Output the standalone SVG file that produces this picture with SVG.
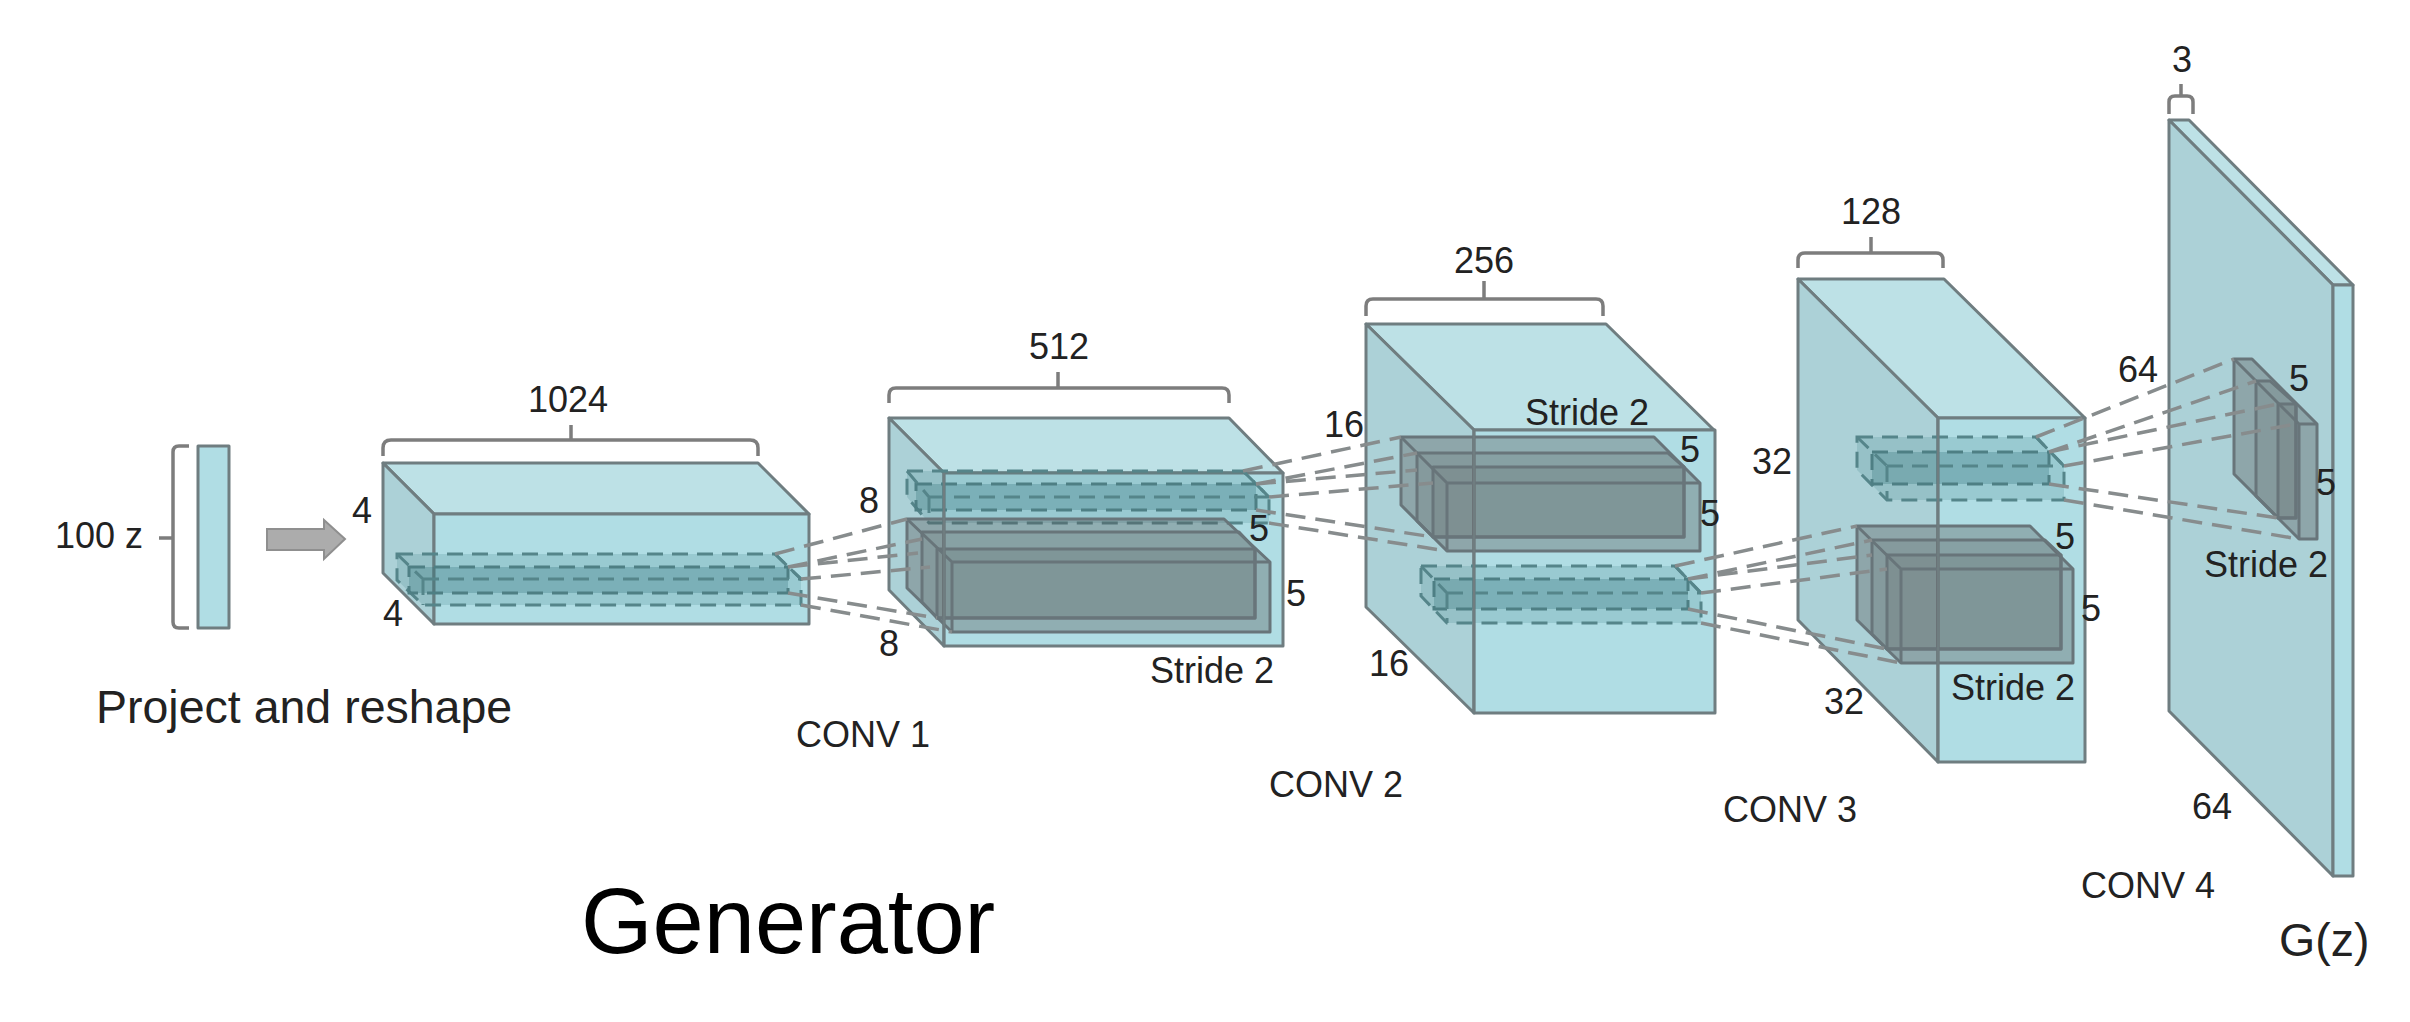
<svg xmlns="http://www.w3.org/2000/svg" width="2410" height="1022" viewBox="0 0 2410 1022">
<style>
text{font-family:"Liberation Sans",Arial,sans-serif;fill:#222;font-size:36px}
.big{font-size:46.5px}
.gen{font-size:92px;fill:#000}
.top{fill:#bde1e6;stroke:#6f7d80;stroke-width:3;stroke-linejoin:round}
.left{fill:#acd1d7;stroke:#6f7d80;stroke-width:3;stroke-linejoin:round}
.front{fill:#b0dde4;stroke:#6f7d80;stroke-width:3;stroke-linejoin:round}
.edge{fill:none;stroke:#6f7d80;stroke-width:2.5}
.brace{fill:none;stroke:#7d7d7d;stroke-width:3.5}
.k{fill:#555;fill-opacity:.35;stroke:#68757a;stroke-width:3;stroke-linejoin:round}
.k2{fill:#555;fill-opacity:.15;stroke:#68757a;stroke-width:3;stroke-linejoin:round}
.kl{fill:none;stroke:#68757a;stroke-width:3}
.d{fill:#3f8087;fill-opacity:.2;stroke:#55858a;stroke-width:3;stroke-dasharray:16 9}
.d2{fill:#2f6f76;fill-opacity:.28;stroke:#4e7f84;stroke-width:3;stroke-dasharray:16 9}
.dl{fill:none;stroke:#55858a;stroke-width:3;stroke-dasharray:16 9}
.c{fill:none;stroke:#878c8d;stroke-width:3.5;stroke-dasharray:20 10}
</style>
<g id="z">
<rect class="front" x="198" y="446" width="31" height="182"/>
<path class="brace" d="M189 446H179Q173 446 173 452V622Q173 628 179 628H189M173 538H159"/>
<text x="55" y="548">100 z</text>
<text class="big" x="96" y="723">Project and reshape</text>
</g>
<g id="arrow">
<polygon points="267,529 324,529 324,520 345,539 324,559 324,550 267,550" fill="#acacac" stroke="#8f8f8f" stroke-width="2"/>
</g>
<g id="conv0">
<path class="brace" d="M383 456V448Q383 440 391 440H750Q758 440 758 448V456M571 440V425"/>
<polygon class="top" points="383,463 758,463 809,514 434,514"/>
<polygon class="left" points="383,463 434,514 434,624 383,573"/>
<rect class="front" x="434" y="514" width="375" height="110"/>
<polygon class="d" points="397,554 775,554 801,579 801,605 423,605 397,580"/>
<rect class="d2" x="409" y="567" width="379" height="26"/>
<path class="dl" d="M423 579H801M423 579V605M397 554L423 579M775 554L801 579"/>
<text x="528" y="412">1024</text>
<text x="352" y="523">4</text>
<text x="383" y="626">4</text>
</g>
<g id="conv1">
<path class="brace" d="M889 403V395Q889 388 896 388H1222Q1229 388 1229 395V403M1058 388V372"/>
<polygon class="top" points="889,418 1229,418 1283,473 944,473"/>
<polygon class="left" points="889,418 944,473 944,646 889,590"/>
<rect class="front" x="944" y="473" width="339" height="173"/>
<polygon class="d" points="907,471 1243,471 1269,497 1269,523 929,523 907,497"/>
<rect class="d2" x="916" y="484" width="340" height="26"/>
<path class="dl" d="M929 497H1269M929 497V523M907 471L929 497M1243 471L1269 497"/>
<polygon class="k" points="907,519 1224,519 1270,562 1270,632 952,632 907,588"/>
<polygon class="k2" points="922,532 1239,532 1255,549 1255,618 937,618 922,602"/>
<rect class="k2" x="937" y="549" width="318" height="69"/>
<path class="kl" d="M952 562H1270M952 562V632M907 519L952 562"/>
<line class="edge" x1="944" y1="473" x2="944" y2="646"/>
<text x="1029" y="359">512</text>
<text x="859" y="513">8</text>
<text x="879" y="656">8</text>
<text x="1249" y="541">5</text>
<text x="1286" y="606">5</text>
<text x="1150" y="683">Stride 2</text>
<text x="796" y="747">CONV 1</text>
</g>
<g id="conv2">
<path class="brace" d="M1366 316V306Q1366 299 1373 299H1596Q1603 299 1603 306V316M1484 299V281"/>
<polygon class="top" points="1366,324 1606,324 1714,430 1474,430"/>
<polygon class="left" points="1366,324 1474,430 1474,713 1366,607"/>
<rect class="front" x="1474" y="430" width="241" height="283"/>
<polygon class="k" points="1401,437 1654,437 1700,483 1700,551 1447,551 1401,505"/>
<polygon class="k2" points="1417,453 1668,453 1684,467 1684,537 1433,537 1417,521"/>
<rect class="k2" x="1433" y="467" width="251" height="70"/>
<path class="kl" d="M1447 483H1700M1447 483V551M1401 437L1447 483"/>
<polygon class="d" points="1421,566 1675,566 1701,593 1701,623 1447,623 1421,596"/>
<rect class="d2" x="1434" y="579" width="254" height="30"/>
<path class="dl" d="M1447 593H1701M1447 593V623M1421 566L1447 593M1675 566L1701 593"/>
<line class="edge" x1="1474" y1="430" x2="1474" y2="713"/>
<text x="1454" y="273">256</text>
<text x="1324" y="437">16</text>
<text x="1369" y="676">16</text>
<text x="1525" y="425">Stride 2</text>
<text x="1680" y="462">5</text>
<text x="1700" y="526">5</text>
<text x="1269" y="797">CONV 2</text>
</g>
<g id="conv3">
<path class="brace" d="M1798 268V260Q1798 253 1805 253H1936Q1943 253 1943 260V268M1871 253V237"/>
<polygon class="top" points="1798,279 1944,279 2085,418 1938,418"/>
<polygon class="left" points="1798,279 1938,418 1938,762 1798,620"/>
<rect class="front" x="1938" y="418" width="147" height="344"/>
<polygon class="d" points="1857,437 2036,437 2064,466 2064,500 1887,500 1857,470"/>
<rect class="d2" x="1872" y="452" width="177" height="32"/>
<path class="dl" d="M1887 466H2064M1887 466V500M1857 437L1887 466M2036 437L2064 466"/>
<polygon class="k" points="1857,526 2030,526 2073,569 2073,663 1901,663 1857,620"/>
<polygon class="k2" points="1872,540 2045,540 2061,555 2061,649 1887,649 1872,634"/>
<rect class="k2" x="1887" y="555" width="174" height="94"/>
<path class="kl" d="M1901 569H2073M1901 569V663M1857 526L1901 569"/>
<line class="edge" x1="1938" y1="418" x2="1938" y2="762"/>
<text x="1841" y="224">128</text>
<text x="1752" y="474">32</text>
<text x="1824" y="714">32</text>
<text x="2055" y="549">5</text>
<text x="2081" y="621">5</text>
<text x="1951" y="700">Stride 2</text>
<text x="1723" y="822">CONV 3</text>
</g>
<g id="conv4">
<path class="brace" d="M2169 114V102Q2169 96 2175 96H2187Q2193 96 2193 102V114M2181 96V84"/>
<polygon class="top" points="2169,120 2189,120 2353,285 2333,285"/>
<polygon class="left" points="2169,120 2333,285 2333,876 2169,711"/>
<rect class="front" x="2333" y="285" width="20" height="591"/>
<polygon class="k" points="2234,359 2252,359 2317,424 2317,539 2299,539 2234,474"/>
<polygon class="k2" points="2256,381 2270,381 2296,404 2296,518 2278,518 2256,496"/>
<rect class="k2" x="2278" y="404" width="18" height="114"/>
<path class="kl" d="M2299 424H2317M2299 424V539M2234 359L2299 424"/>
<text x="2172" y="72">3</text>
<text x="2118" y="382">64</text>
<text x="2192" y="819">64</text>
<text x="2289" y="391">5</text>
<text x="2316" y="495">5</text>
<text x="2204" y="577">Stride 2</text>
<text x="2081" y="898">CONV 4</text>
<text class="big" x="2279" y="956">G(z)</text>
</g>
<g id="connectors">
<path class="c" d="M775 554L907 519M788 567L922 539M788 567L918 553M801 579L930 567M788 593L937 618M801 605L952 632"/>
<path class="c" d="M1243 471L1401 437M1256 484L1417 453M1256 484L1417 470M1269 497L1433 483M1256 510L1433 537M1269 523L1447 551"/>
<path class="c" d="M1675 566L1857 526M1688 579L1872 540M1688 579L1872 555M1701 593L1887 569M1688 609L1887 649M1701 623L1901 663"/>
<path class="c" d="M2036 437L2234 359M2049 452L2256 381M2049 452L2278 404M2064 466L2296 424M2049 484L2278 518M2064 500L2299 539"/>
</g>
<g id="title">
<text class="gen" x="581" y="953">Generator</text>
</g>
</svg>
